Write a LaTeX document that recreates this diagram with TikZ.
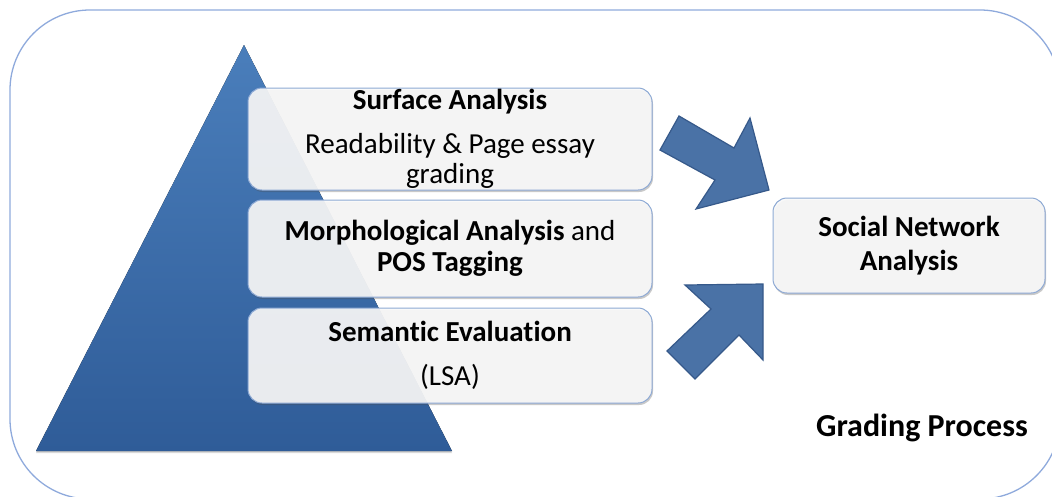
\documentclass[tikz,border=0pt]{standalone}
\usepackage{fontspec}
\setmainfont{Carlito}[Ligatures=NoCommon]
\usepackage{tikz}
\usetikzlibrary{positioning, shadows, backgrounds, calc}
\definecolor{pyrtop}{HTML}{4A7EBB}
\definecolor{pyrmid}{HTML}{4366A9}
\definecolor{pyrbot}{HTML}{2F5C98}
\definecolor{arrowblue}{HTML}{4A72A6}
\definecolor{arrowedge}{HTML}{36598A}
\definecolor{boxedge}{HTML}{8DA9D4}
\definecolor{boxfill}{HTML}{F8F8F8}
\definecolor{frameblue}{HTML}{8FAADC}
\newcommand{\blockarrow}[1]
{
	\draw[arrowbody] #1 -- cycle
}

\begin{document}
\begin{tikzpicture}[x=1pt, y=-1pt,
	every node/.append style={font=\fontsize{29}{30.5}\selectfont, align=center, inner sep=0pt},
	layer/.style={rectangle, rounded corners=14pt, draw=boxedge, line width=1pt,
		fill=boxfill, fill opacity=0.92, text opacity=1,
		drop shadow={fill=black!70, opacity=0.3, shadow xshift=1pt, shadow yshift=-2pt}},
	arrowbody/.style={fill=arrowblue, draw=arrowedge, line width=1.2pt, line join=miter}]

	\useasboundingbox (0,0) rectangle (1052,496);
	\clip (0,0) rectangle (1052,496);

	% pyramid
	\coordinate (apex) at (244,45);
	\coordinate (baseR) at (452,451);
	\coordinate (baseL) at (36,451);
	\fill[top color=pyrtop, middle color=pyrmid, bottom color=pyrbot,
		drop shadow={opacity=0.3, shadow xshift=0pt, shadow yshift=-2pt}]
		(apex) -- (baseR) -- (baseL) -- cycle;

	% layers
	\node[layer, minimum width=404pt, minimum height=102pt] (surface) at (450,139)
		{\textbf{Surface Analysis}\\[13pt] Readability \& Page essay\\ grading};
	\node[layer, minimum width=404pt, minimum height=97pt] (morph) at (450,248.5)
		{\textbf{Morphological Analysis} and\\ \textbf{POS Tagging}};
	\node[layer, minimum width=404pt, minimum height=95pt] (semantic) at (450,355.5)
		{\textbf{Semantic Evaluation}\\[14pt] (LSA)};

	\node[layer, minimum width=272pt, minimum height=95pt] (sna) at (909,245.5)
		{\textbf{Social Network}\\[4pt] \textbf{Analysis}};

	% arrows
	\blockarrow{(679,116) -- (734,148) -- (750,118) -- (769,190) -- (696,209) -- (715,180) -- (660,150)};
	\blockarrow{(667,351) -- (711,309) -- (685,285) -- (763,284) -- (763,360) -- (739,335) -- (695,379)};

	\node[font=\fontsize{32}{32}\selectfont\bfseries] (grading) at (922,428) {Grading Process};

\begin{pgfonlayer}{background}
	\draw[frameblue, line width=1.3pt, rounded corners=80pt] (10,10) rectangle (1060,499);
\end{pgfonlayer}
\end{tikzpicture}
\end{document}
